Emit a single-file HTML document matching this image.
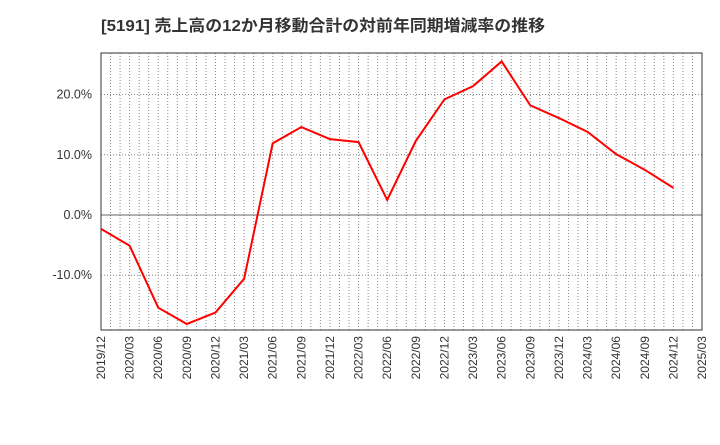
<!DOCTYPE html>
<html><head><meta charset="utf-8"><style>
body{margin:0;background:#fff;width:720px;height:440px;overflow:hidden}
svg{font-family:"Liberation Sans","Noto Sans CJK JP",sans-serif}
</style></head><body>
<svg id="c" width="720" height="440">
<text x="101" y="31" font-size="16" font-weight="bold" fill="#333" textLength="444" lengthAdjust="spacingAndGlyphs">[5191]  売上高の12か月移動合計の対前年同期増減率の推移</text>
<g id="grid"></g><g id="axes"></g><g id="series"></g>
</svg>
<script>
const categories=["2019/12","2020/03","2020/06","2020/09","2020/12","2021/03","2021/06","2021/09","2021/12","2022/03","2022/06","2022/09","2022/12","2023/03","2023/06","2023/09","2023/12","2024/03","2024/06","2024/09","2024/12"];
const values=[-2.3,-5.1,-15.4,-18.1,-16.2,-10.6,11.9,14.6,12.6,12.1,2.5,12.3,19.2,21.4,25.5,18.2,16.1,13.8,10.1,7.5,4.5];
const xTickLabels=["2019/12","2020/03","2020/06","2020/09","2020/12","2021/03","2021/06","2021/09","2021/12","2022/03","2022/06","2022/09","2022/12","2023/03","2023/06","2023/09","2023/12","2024/03","2024/06","2024/09","2024/12","2025/03"];
const yTicks=[-10,0,10,20];
const L=101,R=702,T=53,B=330,yMin=-19.1,yMax=26.9;
const NS="http://www.w3.org/2000/svg";
const x=i=>L+(R-L)*i/(xTickLabels.length-1);
const y=v=>B-(v-yMin)/(yMax-yMin)*(B-T);
function mk(tag,attrs,parent){const e=document.createElementNS(NS,tag);for(const k in attrs)e.setAttribute(k,attrs[k]);document.getElementById(parent).appendChild(e);return e;}
const nQ=xTickLabels.length-1;
for(let m=1;m<nQ*3;m++){const xx=L+(R-L)*m/(nQ*3);
const g=mk('line',{x1:xx,x2:xx,y1:T,y2:B,stroke:'#888','stroke-width':1,'stroke-dasharray':'1,2'},'grid');

}
yTicks.forEach(v=>{const yy=y(v);
const g=mk('line',{x1:L,x2:R,y1:yy,y2:yy,stroke:v===0?'#666':'#888','stroke-width':1,'stroke-dasharray':v===0?'':'1,2'},'grid');


const t=mk('text',{x:L-9,y:yy+4,'text-anchor':'end','font-size':12.5,fill:'#333'},'axes');t.textContent=v.toFixed(1)+'%';

});
const f=mk('rect',{x:L,y:T,width:R-L,height:B-T,fill:'none',stroke:'#333','stroke-width':1},'axes');


xTickLabels.forEach((s,i)=>{const xx=x(i);
const t=mk('text',{transform:`translate(${xx+4},${B+6}) rotate(-90)`,'text-anchor':'end','font-size':12,fill:'#333'},'axes');t.textContent=s;

});
const p=mk('polyline',{points:values.map((v,i)=>x(i)+','+y(v)).join(' '),fill:'none',stroke:'#f00','stroke-width':2},'series');


</script>
</body></html>
